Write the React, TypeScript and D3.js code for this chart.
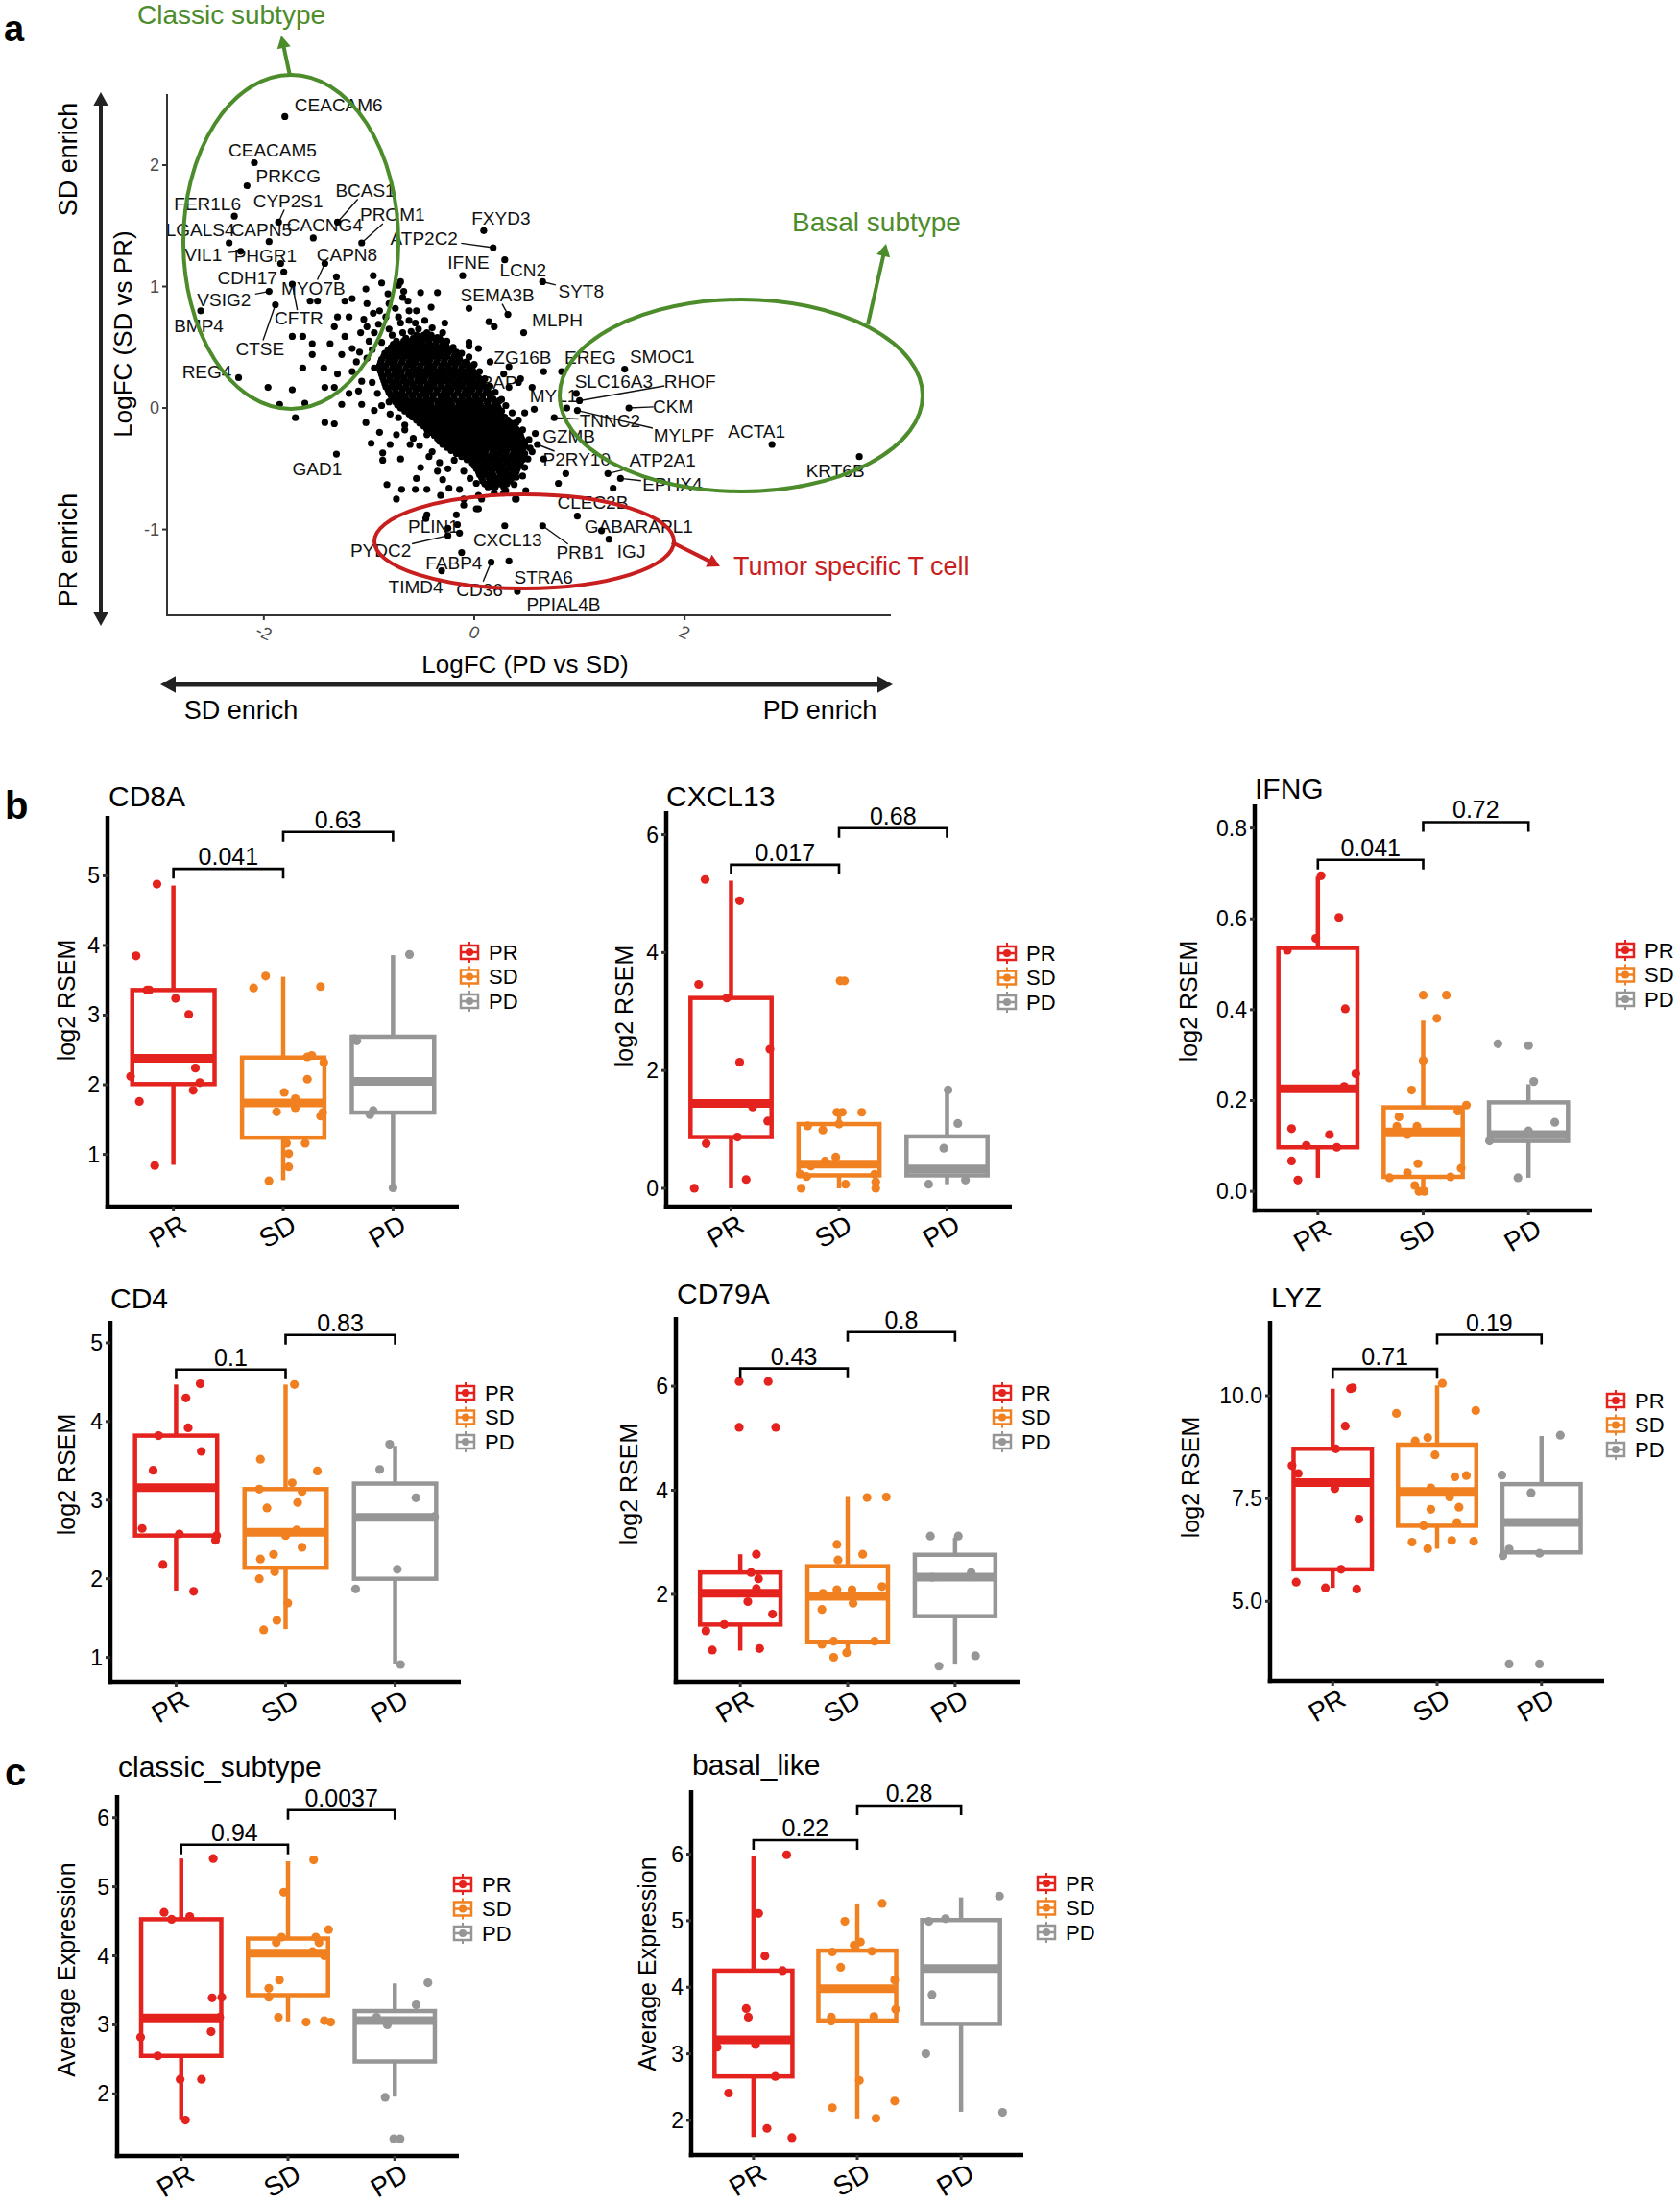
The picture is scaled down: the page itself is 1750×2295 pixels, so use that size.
import React from 'react';
import * as d3 from 'd3';

const FONT = "'Liberation Sans', Arial, Helvetica, sans-serif";
const W = 1750;
const H = 2295;

// ---------------- panel a : logFC scatter ----------------
const volcanoXTicks = [-2, 0, 2];
const volcanoYTicks = [-1, 0, 1, 2];

// [gene, logFC (PD vs SD), logFC (SD vs PR)]
const labelledGenes: [string, number, number][] = [
  ['CEACAM6', -1.8, 2.4], ['CEACAM5', -2.09, 2.02], ['PRKCG', -2.16, 1.83], ['FER1L6', -2.28, 1.58],
  ['CYP2S1', -1.86, 1.53], ['BCAS1', -1.3, 1.53], ['PROM1', -1.07, 1.36], ['LGALS4', -2.33, 1.36],
  ['CAPN5', -1.95, 1.37], ['CACNG4', -1.53, 1.4], ['VIL1', -2.22, 1.29], ['PHGR1', -1.84, 1.19],
  ['CAPN8', -1.31, 1.08], ['CDH17', -1.81, 1.12], ['MYO7B', -1.42, 1.19], ['CFTR', -1.73, 1.02],
  ['VSIG2', -1.95, 0.96], ['BMP4', -2.6, 0.8], ['CTSE', -1.89, 0.85], ['REG4', -2.24, 0.25],
  ['FXYD3', 0.09, 1.46], ['ATP2C2', 0.18, 1.32], ['IFNE', -0.11, 1.09], ['LCN2', 0.29, 1.22],
  ['SYT8', 0.65, 1.04], ['SEMA3B', 0.32, 0.77], ['MLPH', 0.47, 0.62], ['ZG16B', 0.15, 0.38],
  ['EREG', 0.83, 0.3], ['SMOC1', 1.43, 0.32], ['SLC16A3', 0.97, 0.12], ['RHOF', 1.0, 0.06],
  ['CKM', 1.47, 0.0], ['MYL1', 0.88, 0.0], ['MYLPF', 0.98, -0.02], ['TNNC2', 0.76, -0.08],
  ['ACTA1', 2.83, -0.3], ['KRT6B', 3.66, -0.4], ['GZMB', 0.58, -0.21], ['STRAP', 0.42, 0.21],
  ['P2RY10', 0.6, -0.3], ['ATP2A1', 1.27, -0.54], ['EPHX4', 1.39, -0.58], ['CLEC2B', 0.98, -0.89],
  ['GABARAPL1', 1.28, -1.08], ['IGJ', 1.21, -1.01], ['PRB1', 0.65, -0.97], ['CXCL13', 0.29, -0.97],
  ['PLIN1', -0.16, -0.96], ['PYDC2', -0.25, -1.05], ['FABP4', -0.12, -1.19], ['STRA6', 0.33, -1.26],
  ['CD36', 0.16, -1.27], ['TIMD4', -0.31, -1.34], ['PPIAL4B', 0.41, -1.51], ['GAD1', -1.31, -0.38],
];

// label placement, px from the point; third item = leader line
const labelNudge: Record<string, [number, number, boolean]> = {
  CEACAM6: [56, -12, false], CEACAM5: [19, -13, false], PRKCG: [43, -10, false], FER1L6: [-28, -13, false],
  CYP2S1: [10, -22, true], BCAS1: [29, -33, true], PROM1: [32, -29, true], LGALS4: [-30, -13, false],
  CAPN5: [-8, -12, false], CACNG4: [12, -13, false], VIL1: [-39, 4, true], PHGR1: [-16, -8, false],
  CAPN8: [11, -23, false], CDH17: [-38, 6, false], MYO7B: [-12, 26, true], CFTR: [7, 36, true],
  VSIG2: [-47, 9, true], BMP4: [-2, 16, false], CTSE: [-16, 46, true], REG4: [-33, -6, false],
  FXYD3: [18, -13, false], ATP2C2: [-72, -10, true], IFNE: [6, -14, false], LCN2: [19, 11, false],
  SYT8: [40, 10, true], SEMA3B: [-11, -20, true], MLPH: [35, -13, false], ZG16B: [34, -4, false],
  EREG: [30, -15, false], SMOC1: [39, -13, false], SLC16A3: [39, -12, false], RHOF: [115, -20, true],
  CKM: [46, -2, true], MYL1: [-14, -13, false], MYLPF: [111, 26, true], TNNC2: [58, 3, true],
  ACTA1: [-16, -13, false], KRT6B: [-25, 15, false], GZMB: [35, 3, false], STRAP: [-33, 0, false],
  P2RY10: [41, 16, true], ATP2A1: [57, -14, true], EPHX4: [54, 6, true], CLEC2B: [16, -14, false],
  GABARAPL1: [31, -13, false], IGJ: [31, 22, false], PRB1: [39, 28, true], CXCL13: [3, 15, false],
  PLIN1: [-25, 2, false], PYDC2: [-70, 16, true], FABP4: [-8, 11, false], STRA6: [36, 17, false],
  CD36: [-12, 29, true], TIMD4: [-27, 17, false], PPIAL4B: [48, 13, false], GAD1: [-20, 15, false],
};

// unlabelled genes around the dense centre: [logFC PD vs SD, logFC SD vs PR]
const otherGenes: [number, number][] = [
  [-0.96, 1.09], [-0.88, 1.03], [-0.72, 1.01], [-0.67, 0.96], [-1.03, 0.98], [-0.51, 0.95], [-0.35, 0.95],
  [-1.23, 0.88], [-1.16, 0.9], [-1.56, 0.88], [-1.49, 0.88], [-0.63, 0.88], [-1.02, 0.86], [-0.81, 0.86],
  [-1.3, 0.75], [-1.19, 0.75], [-0.96, 0.78], [-0.84, 0.75], [-1.33, 0.67], [-1.05, 0.73], [-1.02, 0.67],
  [-0.91, 0.69], [-0.7, 0.7], [-0.81, 0.65], [-0.53, 0.65], [-1.73, 0.59], [-1.63, 0.59], [-1.54, 0.53],
  [-1.54, 0.44], [-1.37, 0.53], [-1.23, 0.59], [-1.16, 0.49], [-1.09, 0.46], [-1.26, 0.44], [-1.02, 0.41],
  [-0.88, 0.54], [-0.74, 0.46], [-0.6, 0.51], [-0.45, 0.51], [-0.32, 0.46], [-0.05, 0.51], [-0.18, 0.44],
  [-0.07, 0.38], [-1.63, 0.33], [-1.43, 0.33], [-1.3, 0.28], [-1.16, 0.3], [-1.07, 0.22], [-1.96, 0.17],
  [-1.73, 0.15], [-1.42, 0.17], [-1.33, 0.17], [-1.19, 0.12], [-1.07, 0.03], [-0.81, 0.05], [-1.61, 0.04],
  [-1.26, 0.03], [-1.42, -0.12], [-1.33, -0.13], [-1.7, -0.08], [-1.85, 0.03], [-0.07, 0.29], [0.14, 0.71],
  [0.19, 0.67], [-0.05, 0.82], [-0.7, 1.04], [-0.82, 0.94], [-0.68, 0.91], [-0.72, 0.75], [-0.55, 0.8],
  [-0.41, 0.83], [-0.28, 0.7], [-0.05, 0.54], [-0.17, 0.46], [0.04, 0.49], [0.33, 0.34], [0.28, 0.28],
  [0.44, 0.24], [0.55, 0.17], [0.66, 0.3], [0.33, 0.17], [0.26, 0.07], [0.48, -0.04], [0.57, -0.01],
  [0.4, -0.12], [0.44, -0.3], [0.55, -0.36], [0.66, -0.42], [0.48, -0.49], [0.4, -0.57], [0.87, -0.54],
  [0.8, -0.62], [1.32, -0.66], [0.4, -0.75], [0.19, -0.7], [0.04, -0.72], [-0.1, -0.8], [-0.32, -0.72],
  [-0.46, -0.91], [-0.25, -0.99], [-0.14, -1.03], [0.04, -0.83], [-1.03, -0.12], [-0.98, -0.29],
  [-0.87, -0.37], [-0.87, -0.43], [-0.74, -0.22], [-0.66, -0.14], [-0.61, -0.3], [-0.45, -0.22],
  [-0.4, -0.36], [-0.24, -0.3], [-0.19, -0.43], [-0.51, -0.49], [-0.3, -0.59], [-0.83, -0.63],
  [-0.69, -0.67], [-0.56, -0.67], [-0.45, -0.67], [-0.74, -0.75], [-0.24, -0.66], [-0.14, -0.67],
  [0.02, -0.62], [0.18, -0.65], [0.28, -0.7], [0.39, -0.75], [0.49, -0.68], [-0.45, -0.88],
  [-0.17, -0.88], [0.02, -0.83], [-0.1, -0.75], [0.07, -0.75],
  // ragged edge of the centre
  [-0.95, 0.62], [-1.0, 0.55], [-0.97, 0.48], [-0.95, 0.33], [-0.97, 0.21], [-0.92, 0.12], [-0.88, 0.02],
  [-0.8, -0.05], [-0.72, -0.08], [-0.66, -0.18], [-0.58, -0.25], [-0.52, -0.31], [-0.43, -0.4],
  [-0.33, -0.45], [-0.25, -0.5], [-0.1, -0.52], [-0.04, -0.58], [0.3, 0.02], [0.36, -0.04], [0.42, -0.1],
  [0.46, -0.18], [0.52, -0.26], [0.53, -0.33], [0.51, -0.42], [0.46, -0.56], [0.38, -0.63], [0.3, -0.68],
  [-0.6, 0.63], [-0.45, 0.62], [-0.35, 0.58], [-0.26, 0.55], [-0.2, 0.5], [-0.12, 0.45], [-0.05, 0.42],
  [0.0, 0.36], [0.05, 0.3], [0.1, 0.24], [0.15, 0.18], [0.2, 0.13], [0.24, 0.06], [-0.78, 0.6],
  [-0.68, 0.62], [-0.62, 0.72], [-0.56, 0.7], [-0.47, 0.72], [-0.4, 0.66], [-0.3, 0.62], [-0.75, 0.82],
  [-0.62, 0.8], [-0.9, 0.8], [-1.08, 0.62], [-1.12, 0.38], [-1.1, 0.14], [-0.95, -0.02], [-0.9, -0.2],
  [-0.8, -0.3], [-0.7, -0.42], [-0.55, -0.58], [-0.35, -0.52],
];

// the dense centre of the cloud, row by row: [logFC SD vs PR, logFC PD vs SD values]
const centreRows: [number, number[]][] = [
  [0.6, [-0.55, -0.48, -0.41]],
  [0.575, [-0.65, -0.58, -0.52, -0.45, -0.38, -0.33]],
  [0.55, [-0.74, -0.67, -0.61, -0.55, -0.49, -0.43, -0.36, -0.3]],
  [0.525, [-0.77, -0.7, -0.63, -0.57, -0.5, -0.43, -0.37, -0.3, -0.27]],
  [0.5, [-0.79, -0.72, -0.66, -0.59, -0.52, -0.46, -0.4, -0.33, -0.26]],
  [0.475, [-0.82, -0.75, -0.69, -0.62, -0.55, -0.49, -0.42, -0.36, -0.29, -0.22]],
  [0.45, [-0.85, -0.78, -0.71, -0.65, -0.58, -0.51, -0.45, -0.38, -0.31, -0.25, -0.18]],
  [0.425, [-0.86, -0.8, -0.73, -0.66, -0.6, -0.53, -0.46, -0.4, -0.33, -0.26, -0.19, -0.15]],
  [0.4, [-0.88, -0.81, -0.75, -0.68, -0.61, -0.55, -0.48, -0.42, -0.35, -0.28, -0.21, -0.14]],
  [0.375, [-0.89, -0.82, -0.76, -0.69, -0.62, -0.56, -0.49, -0.43, -0.36, -0.29, -0.22, -0.16, -0.09]],
  [0.35, [-0.9, -0.84, -0.77, -0.71, -0.64, -0.58, -0.51, -0.44, -0.38, -0.31, -0.25, -0.18, -0.11, -0.05]],
  [0.325, [-0.91, -0.85, -0.78, -0.72, -0.65, -0.58, -0.52, -0.45, -0.39, -0.32, -0.25, -0.19, -0.12, -0.05, -0.02]],
  [0.3, [-0.89, -0.82, -0.75, -0.69, -0.62, -0.55, -0.49, -0.42, -0.35, -0.29, -0.22, -0.15, -0.08, -0.01]],
  [0.275, [-0.88, -0.82, -0.76, -0.7, -0.63, -0.57, -0.5, -0.44, -0.37, -0.31, -0.24, -0.18, -0.11, -0.04, 0.02]],
  [0.25, [-0.87, -0.8, -0.73, -0.67, -0.6, -0.53, -0.47, -0.4, -0.33, -0.27, -0.2, -0.13, -0.07, 0.0, 0.04]],
  [0.225, [-0.86, -0.8, -0.74, -0.67, -0.61, -0.54, -0.48, -0.41, -0.35, -0.28, -0.22, -0.15, -0.08, -0.02, 0.05]],
  [0.2, [-0.85, -0.78, -0.71, -0.64, -0.58, -0.51, -0.44, -0.38, -0.31, -0.24, -0.17, -0.11, -0.04, 0.03, 0.08]],
  [0.175, [-0.84, -0.78, -0.71, -0.65, -0.58, -0.52, -0.45, -0.39, -0.32, -0.25, -0.19, -0.12, -0.05, 0.01, 0.08, 0.11]],
  [0.15, [-0.82, -0.75, -0.68, -0.62, -0.55, -0.48, -0.42, -0.35, -0.28, -0.22, -0.15, -0.08, -0.02, 0.05, 0.12]],
  [0.125, [-0.81, -0.75, -0.69, -0.62, -0.56, -0.49, -0.43, -0.36, -0.29, -0.23, -0.16, -0.09, -0.03, 0.04, 0.11, 0.14]],
  [0.1, [-0.79, -0.72, -0.66, -0.59, -0.52, -0.46, -0.39, -0.32, -0.26, -0.19, -0.12, -0.06, 0.01, 0.08, 0.15]],
  [0.075, [-0.77, -0.71, -0.65, -0.58, -0.52, -0.45, -0.39, -0.32, -0.25, -0.19, -0.12, -0.05, 0.02, 0.08, 0.15, 0.18]],
  [0.05, [-0.75, -0.68, -0.62, -0.55, -0.49, -0.42, -0.35, -0.29, -0.22, -0.15, -0.09, -0.02, 0.05, 0.12, 0.19]],
  [0.025, [-0.73, -0.67, -0.6, -0.54, -0.47, -0.41, -0.34, -0.27, -0.21, -0.14, -0.07, 0.0, 0.06, 0.13, 0.2, 0.22]],
  [0.0, [-0.7, -0.63, -0.57, -0.5, -0.43, -0.37, -0.3, -0.24, -0.17, -0.1, -0.04, 0.03, 0.1, 0.16, 0.23]],
  [-0.025, [-0.66, -0.6, -0.53, -0.46, -0.4, -0.33, -0.27, -0.2, -0.13, -0.07, 0.0, 0.07, 0.13, 0.2, 0.26]],
  [-0.05, [-0.62, -0.55, -0.49, -0.42, -0.35, -0.29, -0.22, -0.15, -0.09, -0.02, 0.05, 0.12, 0.18, 0.25]],
  [-0.075, [-0.59, -0.52, -0.45, -0.39, -0.32, -0.25, -0.19, -0.12, -0.05, 0.02, 0.09, 0.15, 0.22, 0.29]],
  [-0.1, [-0.55, -0.48, -0.41, -0.35, -0.28, -0.21, -0.15, -0.08, -0.01, 0.06, 0.12, 0.19, 0.26, 0.32]],
  [-0.125, [-0.52, -0.45, -0.38, -0.32, -0.25, -0.18, -0.11, -0.05, 0.02, 0.09, 0.15, 0.22, 0.29, 0.35]],
  [-0.15, [-0.48, -0.41, -0.35, -0.28, -0.21, -0.15, -0.08, -0.01, 0.05, 0.12, 0.19, 0.25, 0.32, 0.38]],
  [-0.175, [-0.45, -0.38, -0.32, -0.25, -0.18, -0.12, -0.05, 0.02, 0.08, 0.15, 0.22, 0.28, 0.35, 0.4]],
  [-0.2, [-0.42, -0.35, -0.29, -0.22, -0.15, -0.09, -0.02, 0.05, 0.11, 0.18, 0.25, 0.31, 0.38, 0.42]],
  [-0.225, [-0.38, -0.32, -0.25, -0.19, -0.12, -0.05, 0.02, 0.08, 0.15, 0.22, 0.28, 0.35, 0.41, 0.44]],
  [-0.25, [-0.35, -0.28, -0.22, -0.15, -0.08, -0.02, 0.05, 0.12, 0.18, 0.25, 0.32, 0.38, 0.45]],
  [-0.275, [-0.33, -0.26, -0.19, -0.13, -0.06, 0.01, 0.08, 0.14, 0.21, 0.28, 0.34, 0.41, 0.47]],
  [-0.3, [-0.3, -0.23, -0.16, -0.1, -0.03, 0.04, 0.1, 0.17, 0.24, 0.3, 0.37, 0.44, 0.48]],
  [-0.325, [-0.26, -0.19, -0.13, -0.06, 0.01, 0.07, 0.14, 0.21, 0.27, 0.34, 0.41, 0.47]],
  [-0.35, [-0.22, -0.15, -0.09, -0.02, 0.05, 0.11, 0.18, 0.25, 0.31, 0.38, 0.45]],
  [-0.375, [-0.17, -0.1, -0.04, 0.03, 0.1, 0.17, 0.23, 0.3, 0.37, 0.43, 0.48]],
  [-0.4, [-0.12, -0.05, 0.01, 0.08, 0.15, 0.21, 0.28, 0.35, 0.41, 0.47]],
  [-0.425, [-0.07, -0.01, 0.06, 0.13, 0.2, 0.26, 0.33, 0.4, 0.46]],
  [-0.45, [-0.02, 0.04, 0.11, 0.18, 0.24, 0.31, 0.38, 0.44]],
  [-0.475, [0.0, 0.06, 0.13, 0.2, 0.26, 0.33, 0.39, 0.43]],
  [-0.5, [0.02, 0.08, 0.15, 0.22, 0.28, 0.35, 0.41]],
  [-0.525, [0.04, 0.1, 0.17, 0.24, 0.3, 0.37, 0.4]],
  [-0.55, [0.05, 0.12, 0.18, 0.25, 0.32, 0.38]],
  [-0.575, [0.07, 0.14, 0.2, 0.27, 0.33, 0.36]],
  [-0.6, [0.08, 0.15, 0.22, 0.28, 0.34]],
  [-0.625, [0.1, 0.17, 0.24, 0.31]],
  [-0.65, [0.13, 0.2, 0.28]],
];

// ---------------- panels b, c : box plots ----------------
const groups = ['PR', 'SD', 'PD'];
const groupColors = ['#e4231e', '#f18021', '#969696'];

// points: [value, horizontal jitter as share of group spacing]
// box: [lower whisker, Q1, median, Q3, upper whisker]
const cd8a = {
  pts: {
    PR: [[4.88, -0.15], [3.85, -0.34], [3.36, -0.24], [3.36, -0.22], [3.24, 0.02], [3.01, 0.14], [2.24, 0.2], [2.12, -0.39], [2.03, 0.24], [1.92, 0.18], [1.76, -0.31], [0.84, -0.17]],
    SD: [[3.56, -0.16], [3.39, -0.27], [3.41, 0.34], [2.42, 0.26], [2.4, 0.22], [2.32, 0.37], [2.08, 0.22], [1.89, 0.01], [1.8, 0.11], [1.67, 0.11], [1.61, -0.06], [1.6, 0.36], [1.55, 0.34], [1.16, 0.03], [1.16, 0.2], [1.01, 0.05], [0.82, 0.05], [0.62, -0.13]],
    PD: [[3.87, 0.15], [2.66, -0.35], [2.63, -0.33], [1.63, -0.18], [1.57, -0.21], [0.52, 0.0]],
  },
  box: { PR: [0.85, 2.01, 2.38, 3.36, 4.86], SD: [0.63, 1.24, 1.74, 2.39, 3.55], PD: [0.53, 1.6, 2.05, 2.69, 3.86] },
  pvals: ['0.041', '0.63'],
  bracketY: [5.1, 5.63],
};

const cxcl13 = {
  pts: {
    PR: [[5.24, -0.24], [4.88, 0.08], [3.46, -0.3], [3.23, -0.04], [2.36, 0.36], [2.14, 0.08], [1.38, 0.2], [1.14, 0.34], [0.87, 0.06], [0.76, -0.23], [0.15, 0.14], [0.0, -0.34]],
    SD: [[3.52, 0.01], [3.52, 0.05], [1.29, -0.02], [1.29, 0.03], [1.29, 0.21], [1.06, -0.29], [0.99, -0.15], [1.09, 0.0], [0.53, -0.03], [0.46, -0.13], [0.38, -0.26], [0.24, -0.36], [0.2, -0.3], [0.24, 0.33], [0.11, 0.34], [0.07, 0.06], [0.0, -0.35], [0.0, 0.34]],
    PD: [[1.67, 0.01], [1.1, 0.1], [0.68, -0.03], [0.07, -0.17], [0.14, 0.17]],
  },
  box: { PR: [0.0, 0.87, 1.44, 3.23, 5.22], SD: [0.0, 0.22, 0.41, 1.09, 1.29], PD: [0.07, 0.22, 0.33, 0.88, 1.67] },
  pvals: ['0.017', '0.68'],
  bracketY: [5.49, 6.11],
};

const ifng = {
  pts: {
    PR: [[0.695, 0.03], [0.603, 0.2], [0.557, -0.02], [0.531, -0.29], [0.402, 0.26], [0.259, 0.36], [0.231, 0.25], [0.138, -0.25], [0.125, 0.11], [0.101, -0.11], [0.097, 0.18], [0.067, -0.25], [0.025, -0.19]],
    SD: [[0.432, 0.0], [0.432, 0.22], [0.381, 0.13], [0.288, 0.0], [0.223, -0.11], [0.19, 0.41], [0.177, 0.33], [0.164, -0.23], [0.143, -0.25], [0.143, -0.06], [0.125, -0.15], [0.061, -0.05], [0.041, -0.15], [0.051, 0.36], [0.03, -0.32], [0.032, 0.26], [0.013, -0.08], [0.0, -0.04], [0.0, 0.01]],
    PD: [[0.325, -0.29], [0.321, 0.0], [0.242, 0.05], [0.152, 0.25], [0.133, 0.0], [0.111, -0.37], [0.03, -0.1]],
  },
  box: { PR: [0.03, 0.097, 0.226, 0.536, 0.693], SD: [0.0, 0.032, 0.131, 0.185, 0.376], PD: [0.03, 0.111, 0.125, 0.196, 0.236] },
  pvals: ['0.041', '0.72'],
  bracketY: [0.73, 0.813],
};

const cd4 = {
  pts: {
    PR: [[4.48, 0.22], [4.3, 0.09], [3.92, 0.11], [3.82, -0.16], [3.62, 0.23], [3.38, -0.21], [2.64, -0.31], [2.57, 0.03], [2.55, 0.37], [2.49, 0.36], [2.18, -0.12], [1.84, 0.16]],
    SD: [[4.47, 0.08], [3.52, -0.23], [3.37, 0.29], [3.22, 0.06], [3.14, -0.24], [3.11, 0.15], [2.97, 0.11], [2.9, -0.17], [2.62, 0.1], [2.55, 0.0], [2.4, 0.15], [2.31, -0.11], [2.25, -0.23], [2.09, -0.1], [2.0, -0.24], [1.69, 0.02], [1.47, -0.08], [1.35, -0.2]],
    PD: [[3.71, -0.05], [3.39, -0.14], [3.03, 0.19], [2.79, 0.36], [2.12, 0.02], [1.87, -0.36], [0.91, 0.05]],
  },
  box: { PR: [1.85, 2.55, 3.16, 3.82, 4.47], SD: [1.36, 2.14, 2.59, 3.14, 4.47], PD: [0.92, 2.0, 2.78, 3.21, 3.69] },
  pvals: ['0.1', '0.83'],
  bracketY: [4.66, 5.1],
};

const cd79a = {
  pts: {
    PR: [[6.09, -0.01], [6.09, 0.26], [5.21, -0.01], [5.21, 0.33], [2.77, 0.15], [2.42, 0.1], [2.3, 0.17], [2.11, 0.15], [1.86, 0.07], [1.62, 0.3], [1.42, -0.15], [1.3, -0.32], [0.93, -0.26], [0.96, 0.18]],
    SD: [[3.86, 0.18], [3.87, 0.36], [2.96, -0.1], [2.77, 0.14], [2.66, -0.09], [2.15, 0.32], [2.09, -0.1], [2.09, 0.04], [2.02, -0.23], [1.83, 0.05], [1.71, -0.24], [1.1, 0.25], [1.1, -0.13], [1.04, -0.24], [0.88, -0.01], [0.79, -0.13]],
    PD: [[3.12, -0.23], [3.12, 0.03], [2.42, 0.15], [2.33, -0.21], [0.82, 0.19], [0.62, -0.15]],
  },
  box: { PR: [0.92, 1.42, 2.02, 2.42, 2.77], SD: [0.82, 1.08, 1.96, 2.54, 3.89], PD: [0.65, 1.58, 2.33, 2.76, 3.09] },
  pvals: ['0.43', '0.8'],
  bracketY: [6.34, 7.04],
};

const lyz = {
  pts: {
    PR: [[10.17, 0.17], [10.19, 0.19], [9.26, 0.12], [8.71, 0.03], [8.3, -0.39], [8.11, -0.33], [7.74, 0.02], [7.0, 0.25], [5.78, 0.08], [5.47, -0.35], [5.33, -0.07], [5.3, 0.23]],
    SD: [[10.3, 0.05], [9.57, -0.39], [9.64, 0.37], [8.9, -0.21], [8.98, -0.09], [8.56, -0.02], [8.03, 0.17], [8.06, 0.28], [7.76, -0.06], [7.54, 0.12], [7.24, -0.06], [7.29, 0.21], [6.84, -0.13], [6.92, 0.19], [6.44, -0.24], [6.48, 0.14], [6.46, 0.35], [6.28, -0.09]],
    PD: [[9.04, 0.18], [8.07, -0.38], [7.64, -0.1], [6.27, -0.31], [6.11, -0.37], [6.17, -0.02], [3.48, -0.31], [3.48, -0.02]],
  },
  box: { PR: [5.33, 5.78, 7.89, 8.71, 10.17], SD: [6.28, 6.84, 7.67, 8.81, 10.25], PD: [6.11, 6.19, 6.92, 7.85, 9.02] },
  pvals: ['0.71', '0.19'],
  bracketY: [10.65, 11.48],
};

const classicSubtype = {
  pts: {
    PR: [[5.41, 0.3], [4.63, -0.16], [4.53, -0.09], [4.57, 0.08], [3.39, 0.29], [3.4, 0.38], [3.11, 0.36], [2.82, -0.38], [2.9, 0.28], [2.55, -0.22], [2.21, -0.01], [2.21, 0.19], [1.62, 0.04]],
    SD: [[5.39, 0.24], [4.92, -0.04], [4.27, -0.06], [4.19, -0.11], [4.27, 0.26], [4.19, 0.29], [4.38, 0.38], [4.06, 0.23], [4.0, 0.34], [3.65, -0.08], [3.53, -0.18], [3.4, -0.18], [3.11, -0.09], [3.04, 0.17], [3.06, 0.34], [3.04, 0.4]],
    PD: [[3.61, 0.31], [3.29, 0.2], [3.11, -0.17], [3.0, -0.07], [1.95, -0.09], [1.35, -0.01], [1.35, 0.05]],
  },
  box: { PR: [1.62, 2.55, 3.1, 4.53, 5.41], SD: [3.05, 3.43, 4.04, 4.25, 5.37], PD: [1.96, 2.47, 3.06, 3.2, 3.6] },
  pvals: ['0.94', '0.0037'],
  bracketY: [5.61, 6.11],
};

const basalLike = {
  pts: {
    PR: [[5.99, 0.32], [5.11, 0.05], [4.47, 0.11], [4.25, 0.28], [3.68, -0.07], [3.55, -0.05], [3.1, -0.35], [3.14, 0.02], [2.66, 0.21], [2.41, -0.24], [1.88, 0.13], [1.74, 0.37]],
    SD: [[5.26, 0.24], [4.99, -0.12], [4.68, 0.03], [4.63, -0.03], [4.53, -0.24], [4.54, 0.14], [4.3, -0.16], [4.11, 0.36], [3.67, 0.37], [3.55, -0.25], [3.49, -0.25], [3.56, 0.16], [2.6, 0.02], [2.19, -0.24], [2.29, 0.36], [2.03, 0.18]],
    PD: [[5.37, 0.37], [4.99, -0.31], [5.03, -0.15], [3.89, -0.28], [3.0, -0.34], [2.12, 0.4]],
  },
  box: { PR: [1.75, 2.66, 3.21, 4.25, 5.98], SD: [2.03, 3.5, 3.98, 4.55, 5.26], PD: [2.13, 3.45, 4.28, 5.01, 5.35] },
  pvals: ['0.22', '0.28'],
  bracketY: [6.21, 6.73],
};

const panels = [
  { title: 'CD8A', yTitle: 'log2 RSEM', data: cd8a, rect: [112, 850, 478, 1257], domain: [0.25, 5.86], ticks: [1, 2, 3, 4, 5], fmt: '', titleAt: [113, 840], yTitleAt: [69, 1042], legendAt: [489, 992] },
  { title: 'CXCL13', yTitle: 'log2 RSEM', data: cxcl13, rect: [694, 845, 1054, 1257], domain: [-0.31, 6.4], ticks: [0, 2, 4, 6], fmt: '', titleAt: [694, 840], yTitleAt: [650, 1048], legendAt: [1049, 993] },
  { title: 'IFNG', yTitle: 'log2 RSEM', data: ifng, rect: [1307, 838, 1658, 1261], domain: [-0.042, 0.852], ticks: [0, 0.2, 0.4, 0.6, 0.8], fmt: '.1f', titleAt: [1307, 832], yTitleAt: [1238, 1043], legendAt: [1693, 990] },
  { title: 'CD4', yTitle: 'log2 RSEM', data: cd4, rect: [115, 1376, 480, 1752], domain: [0.69, 5.28], ticks: [1, 2, 3, 4, 5], fmt: '', titleAt: [115, 1363], yTitleAt: [69, 1536], legendAt: [485, 1451] },
  { title: 'CD79A', yTitle: 'log2 RSEM', data: cd79a, rect: [704, 1372, 1062, 1752], domain: [0.32, 7.33], ticks: [2, 4, 6], fmt: '', titleAt: [705, 1358], yTitleAt: [655, 1546], legendAt: [1044, 1451] },
  { title: 'LYZ', yTitle: 'log2 RSEM', data: lyz, rect: [1323, 1376, 1671, 1751], domain: [3.07, 11.82], ticks: [5, 7.5, 10], fmt: '.1f', titleAt: [1324, 1362], yTitleAt: [1240, 1539], legendAt: [1683, 1459] },
  { title: 'classic_subtype', yTitle: 'Average Expression', data: classicSubtype, rect: [122, 1870, 478, 2246], domain: [1.1, 6.33], ticks: [2, 3, 4, 5, 6], fmt: '', titleAt: [123, 1851], yTitleAt: [69, 2052], legendAt: [482, 1963] },
  { title: 'basal_like', yTitle: 'Average Expression', data: basalLike, rect: [720, 1865, 1066, 2245], domain: [1.48, 6.96], ticks: [2, 3, 4, 5, 6], fmt: '', titleAt: [721, 1849], yTitleAt: [674, 2046], legendAt: [1090, 1962] },
];

function Arrow({ x1, y1, x2, y2, color, width, head, both = false }: any) {
  const len = Math.hypot(x2 - x1, y2 - y1);
  const ux = (x2 - x1) / len;
  const uy = (y2 - y1) / len;
  const tri = (tx: number, ty: number, vx: number, vy: number) => {
    const bx = tx - vx * head;
    const by = ty - vy * head;
    const px = -vy * head * 0.55;
    const py = vx * head * 0.55;
    return `${tx},${ty} ${bx + px},${by + py} ${bx - px},${by - py}`;
  };
  const sx = both ? x1 + ux * head * 0.8 : x1;
  const sy = both ? y1 + uy * head * 0.8 : y1;
  return (
    <g>
      <line x1={sx} y1={sy} x2={x2 - ux * head * 0.8} y2={y2 - uy * head * 0.8} stroke={color} strokeWidth={width} />
      <polygon points={tri(x2, y2, ux, uy)} fill={color} />
      {both && <polygon points={tri(x1, y1, -ux, -uy)} fill={color} />}
    </g>
  );
}

function Volcano() {
  const x = d3.scaleLinear().domain([-2.92, 3.96]).range([174, 928]);
  const y = d3.scaleLinear().domain([-1.707, 2.585]).range([641, 98]);
  const centre = centreRows.flatMap(([yv, xs]) => xs.map((xv) => [xv, yv] as [number, number]));
  const green = '#4c8c2b';
  const red = '#c81e1e';

  return (
    <g>
      {/* gene labels and leader lines */}
      {labelledGenes.map(([gene, gx, gy]) => {
        const [dx, dy, lead] = labelNudge[gene];
        const px = x(gx);
        const py = y(gy);
        const cx = px + dx;
        const cy = py + dy;
        let seg = null;
        if (lead) {
          const hw = gene.length * 6.1 + 2;
          const hh = 9;
          const vx = -dx;
          const vy = -dy;
          const s = Math.min(vx ? hw / Math.abs(vx) : Infinity, vy ? hh / Math.abs(vy) : Infinity);
          if (s < 1) seg = <line x1={px} y1={py} x2={cx + vx * s} y2={cy + vy * s} stroke="#111" strokeWidth={1.4} />;
        }
        return (
          <g key={gene}>
            {seg}
            <text x={cx} y={cy} fontSize={19} textAnchor="middle" dominantBaseline="central" fill="#111">{gene}</text>
          </g>
        );
      })}

      {/* points */}
      {[...otherGenes, ...centre].map(([gx, gy], i) => (
        <circle key={'o' + i} cx={x(gx)} cy={y(gy)} r={3.6} fill="#000" />
      ))}
      {labelledGenes.map(([gene, gx, gy]) => (
        <circle key={'p' + gene} cx={x(gx)} cy={y(gy)} r={3.6} fill="#000" />
      ))}

      {/* axes */}
      <line x1={174} x2={174} y1={98} y2={642} stroke="#333" strokeWidth={2} />
      <line x1={173} x2={928} y1={641} y2={641} stroke="#333" strokeWidth={2} />
      {volcanoYTicks.map((t) => (
        <g key={'yt' + t}>
          <line x1={169} x2={174} y1={y(t)} y2={y(t)} stroke="#333" strokeWidth={2} />
          <text x={166} y={y(t)} fontSize={18} fill="#4d4d4d" textAnchor="end" dominantBaseline="central">{t}</text>
        </g>
      ))}
      {volcanoXTicks.map((t) => (
        <g key={'xt' + t}>
          <line x1={x(t)} x2={x(t)} y1={641} y2={646} stroke="#333" strokeWidth={2} />
          <text x={x(t)} y={659} fontSize={18} fill="#4d4d4d" textAnchor="middle" dominantBaseline="central" transform={`rotate(25, ${x(t)}, 659)`}>{t}</text>
        </g>
      ))}
      <text x={547} y={692} fontSize={26} textAnchor="middle" dominantBaseline="central">LogFC (PD vs SD)</text>
      <text x={128} y={348} fontSize={26} textAnchor="middle" dominantBaseline="central" transform="rotate(-90, 128, 348)">LogFC (SD vs PR)</text>

      {/* enrichment arrows */}
      <Arrow x1={167} y1={713} x2={930} y2={713} color="#222" width={5} head={16} both />
      <text x={251} y={740} fontSize={27} textAnchor="middle" dominantBaseline="central">SD enrich</text>
      <text x={854} y={740} fontSize={27} textAnchor="middle" dominantBaseline="central">PD enrich</text>
      <Arrow x1={105} y1={652} x2={105} y2={96} color="#222" width={4} head={14} both />
      <text x={71} y={166} fontSize={27} textAnchor="middle" dominantBaseline="central" transform="rotate(-90, 71, 166)">SD enrich</text>
      <text x={71} y={573} fontSize={27} textAnchor="middle" dominantBaseline="central" transform="rotate(-90, 71, 573)">PR enrich</text>

      {/* annotation ellipses */}
      <ellipse cx={303} cy={252} rx={112} ry={174} fill="none" stroke={green} strokeWidth={4} />
      <Arrow x1={302} y1={79} x2={293} y2={37} color={green} width={4} head={13} />
      <text x={241} y={15} fontSize={28} fill={green} textAnchor="middle" dominantBaseline="central">Classic subtype</text>

      <ellipse cx={772} cy={412} rx={189} ry={100} fill="none" stroke={green} strokeWidth={4} />
      <Arrow x1={904} y1={338} x2={923} y2={254} color={green} width={4} head={13} />
      <text x={913} y={231} fontSize={28} fill={green} textAnchor="middle" dominantBaseline="central">Basal subtype</text>

      <ellipse cx={546} cy={564} rx={156} ry={49} fill="none" stroke={red} strokeWidth={4} />
      <Arrow x1={700} y1={565} x2={750} y2={590} color={red} width={4} head={13} />
      <text x={764} y={590} fontSize={27} fill={red} textAnchor="start" dominantBaseline="central">Tumor specific T cell</text>
    </g>
  );
}

function BoxPanel({ p }: { p: any }) {
  const [l, t, r, b] = p.rect;
  const y = d3.scaleLinear().domain(p.domain).range([b, t]);
  const x = d3.scalePoint<string>().domain(groups).range([l, r]).padding(0.6);
  const step = x.step();
  const bw = step * 0.75;
  const fmt = p.fmt ? d3.format(p.fmt) : (v: number) => String(v);
  const [lx, ly] = p.legendAt;

  return (
    <g>
      <text x={p.titleAt[0]} y={p.titleAt[1]} fontSize={30}>{p.title}</text>
      <text x={p.yTitleAt[0]} y={p.yTitleAt[1]} fontSize={25} textAnchor="middle" dominantBaseline="central" transform={`rotate(-90, ${p.yTitleAt[0]}, ${p.yTitleAt[1]})`}>{p.yTitle}</text>

      {groups.map((g, i) => {
        const [lo, q1, med, q3, hi] = p.data.box[g];
        const cx = x(g) as number;
        const col = groupColors[i];
        return (
          <g key={'box' + g}>
            <line x1={cx} x2={cx} y1={y(hi)} y2={y(q3)} stroke={col} strokeWidth={4.5} />
            <line x1={cx} x2={cx} y1={y(q1)} y2={y(lo)} stroke={col} strokeWidth={4.5} />
            <rect x={cx - bw / 2} y={y(q3)} width={bw} height={y(q1) - y(q3)} fill="none" stroke={col} strokeWidth={4.5} />
            <line x1={cx - bw / 2} x2={cx + bw / 2} y1={y(med)} y2={y(med)} stroke={col} strokeWidth={9} />
          </g>
        );
      })}
      {groups.map((g, i) =>
        p.data.pts[g].map(([v, j]: number[], k: number) => (
          <circle key={g + k} cx={(x(g) as number) + j * step} cy={y(v)} r={4.6} fill={groupColors[i]} />
        ))
      )}

      {/* axes */}
      <line x1={l} x2={l} y1={t} y2={b + 2.25} stroke="#000" strokeWidth={4.5} />
      <line x1={l - 2.25} x2={r} y1={b} y2={b} stroke="#000" strokeWidth={4.5} />
      {p.ticks.map((v: number) => (
        <g key={'t' + v}>
          <line x1={l - 5} x2={l} y1={y(v)} y2={y(v)} stroke="#333" strokeWidth={3} />
          <text x={l - 8} y={y(v)} fontSize={23} textAnchor="end" dominantBaseline="central">{fmt(v)}</text>
        </g>
      ))}
      {groups.map((g) => {
        const cx = x(g) as number;
        return (
          <g key={'xt' + g}>
            <line x1={cx} x2={cx} y1={b} y2={b + 5} stroke="#333" strokeWidth={3} />
            <text x={cx - 6} y={b + 26} fontSize={28} textAnchor="middle" dominantBaseline="central" transform={`rotate(-30, ${cx - 6}, ${b + 26})`}>{g}</text>
          </g>
        );
      })}

      {/* comparison brackets */}
      {[0, 1].map((i) => {
        const x1 = x(groups[i]) as number;
        const x2 = x(groups[i + 1]) as number;
        const yb = y(p.data.bracketY[i]);
        return (
          <g key={'br' + i}>
            <path d={`M${x1},${yb + 10}V${yb}H${x2}V${yb + 10}`} fill="none" stroke="#000" strokeWidth={2.6} />
            <text x={(x1 + x2) / 2} y={yb - 4} fontSize={25} textAnchor="middle">{p.data.pvals[i]}</text>
          </g>
        );
      })}

      {/* legend */}
      {groups.map((g, i) => {
        const cy = ly + i * 25.5;
        const col = groupColors[i];
        return (
          <g key={'lg' + g}>
            <line x1={lx} x2={lx} y1={cy - 11} y2={cy + 11} stroke={col} strokeWidth={2} />
            <rect x={lx - 9} y={cy - 7} width={18} height={14} fill="#fff" stroke={col} strokeWidth={2.5} />
            <line x1={lx - 9} x2={lx + 9} y1={cy} y2={cy} stroke={col} strokeWidth={2.5} />
            <circle cx={lx} cy={cy} r={4} fill={col} />
            <text x={lx + 20} y={cy} fontSize={22} dominantBaseline="central">{g}</text>
          </g>
        );
      })}
    </g>
  );
}

export default function App() {
  return (
    <svg
      width={W}
      height={H}
      viewBox={`0 0 ${W} ${H}`}
      fontFamily={FONT}
      style={{ position: 'absolute', left: 0, top: 0, background: '#fff' }}
    >
      <rect width={W} height={H} fill="#fff" />
      <Volcano />
      {panels.map((p) => (
        <BoxPanel key={p.title} p={p} />
      ))}
      <text x={4} y={43} fontSize={38} fontWeight="bold">a</text>
      <text x={5} y={853} fontSize={40} fontWeight="bold">b</text>
      <text x={5} y={1860} fontSize={40} fontWeight="bold">c</text>
    </svg>
  );
}
